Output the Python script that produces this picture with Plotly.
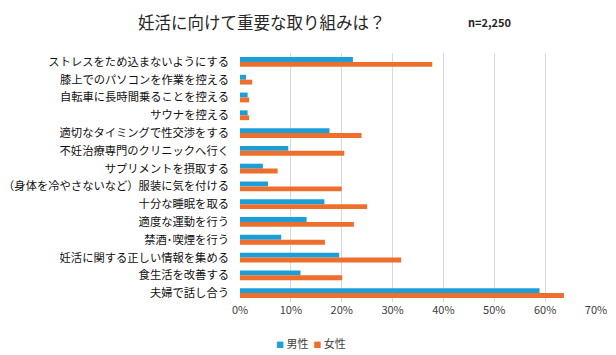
import plotly.graph_objects as go

categories = [
    "ストレスをため込まないようにする",
    "膝上でのパソコンを作業を控える",
    "自転車に長時間乗ることを控える",
    "サウナを控える",
    "適切なタイミングで性交渉をする",
    "不妊治療専門のクリニックへ行く",
    "サプリメントを摂取する",
    "（身体を冷やさないなど）服装に気を付ける",
    "十分な睡眠を取る",
    "適度な運動を行う",
    "禁酒･喫煙を行う",
    "妊活に関する正しい情報を集める",
    "食生活を改善する",
    "夫婦で話し合う",
]
male = [22.2, 1.2, 1.5, 1.5, 17.6, 9.5, 4.5, 5.5, 16.6, 13.1, 8.1, 19.5, 11.9, 58.9]
female = [37.8, 2.4, 1.8, 1.8, 23.9, 20.5, 7.4, 20.0, 25.0, 22.4, 16.7, 31.7, 20.1, 63.7]
x_ticks = [0, 10, 20, 30, 40, 50, 60, 70]
x_tick_labels = ["0%", "10%", "20%", "30%", "40%", "50%", "60%", "70%"]
series_names = ["男性", "女性"]
series_colors = ["#1A9FD8", "#EE6F2D"]

W, H = 616, 355
L, R, T, B = 240, 20, 53, 53
PW, PH = W - L - R, H - T - B
font = "Noto Sans CJK JP"

fig = go.Figure()
for name, vals, col in zip(series_names, [male, female], series_colors):
    fig.add_trace(go.Bar(y=categories, x=vals, name=name, orientation="h",
                         marker=dict(color=col, line=dict(width=0))))

legend_text = "&nbsp;&nbsp;".join(
    f"<span style='color:{c};font-size:8px'>■</span>&nbsp;{n}"
    for n, c in zip(series_names, series_colors)
)

fig.update_layout(
    width=W, height=H,
    margin=dict(l=L, r=R, t=T, b=B, autoexpand=False),
    paper_bgcolor="white", plot_bgcolor="white",
    font=dict(family=font, color="#262626", size=11),
    barmode="group", bargap=0.45, bargroupgap=0,
    showlegend=False,
    xaxis=dict(range=[0, 70], tickvals=x_ticks, ticktext=x_tick_labels,
               showgrid=True, gridcolor="#D9D9D9", gridwidth=1,
               zeroline=False, showline=False, ticks="", automargin=False,
               tickfont=dict(size=11, color="#404040")),
    yaxis=dict(autorange="reversed", showgrid=False, zeroline=False,
               showline=False, ticks="", automargin=False, ticklabelstandoff=10,
               tickfont=dict(size=11.3, color="#111111")),
    annotations=[
        dict(text="妊活に向けて重要な取り組みは？", xref="paper", yref="paper",
             x=(262 - L) / PW, y=1 + (T - 22) / PH,
             xanchor="center", yanchor="middle", showarrow=False,
             font=dict(size=16.5, color="#262626", family=font)),
        dict(text="<b>n=2,250</b>", xref="paper", yref="paper",
             x=(513 - L) / PW, y=1 + (T - 22) / PH,
             xanchor="right", yanchor="middle", showarrow=False,
             font=dict(size=11, color="#262626", family=font)),
        dict(text=legend_text, xref="paper", yref="paper",
             x=(311 - L) / PW, y=-(343 - (H - B)) / PH,
             xanchor="center", yanchor="middle", showarrow=False,
             font=dict(size=11, color="#404040", family=font)),
    ],
)

fig.write_html("out.html", config={"displayModeBar": False},
               post_script="document.body.style.margin='0';")
